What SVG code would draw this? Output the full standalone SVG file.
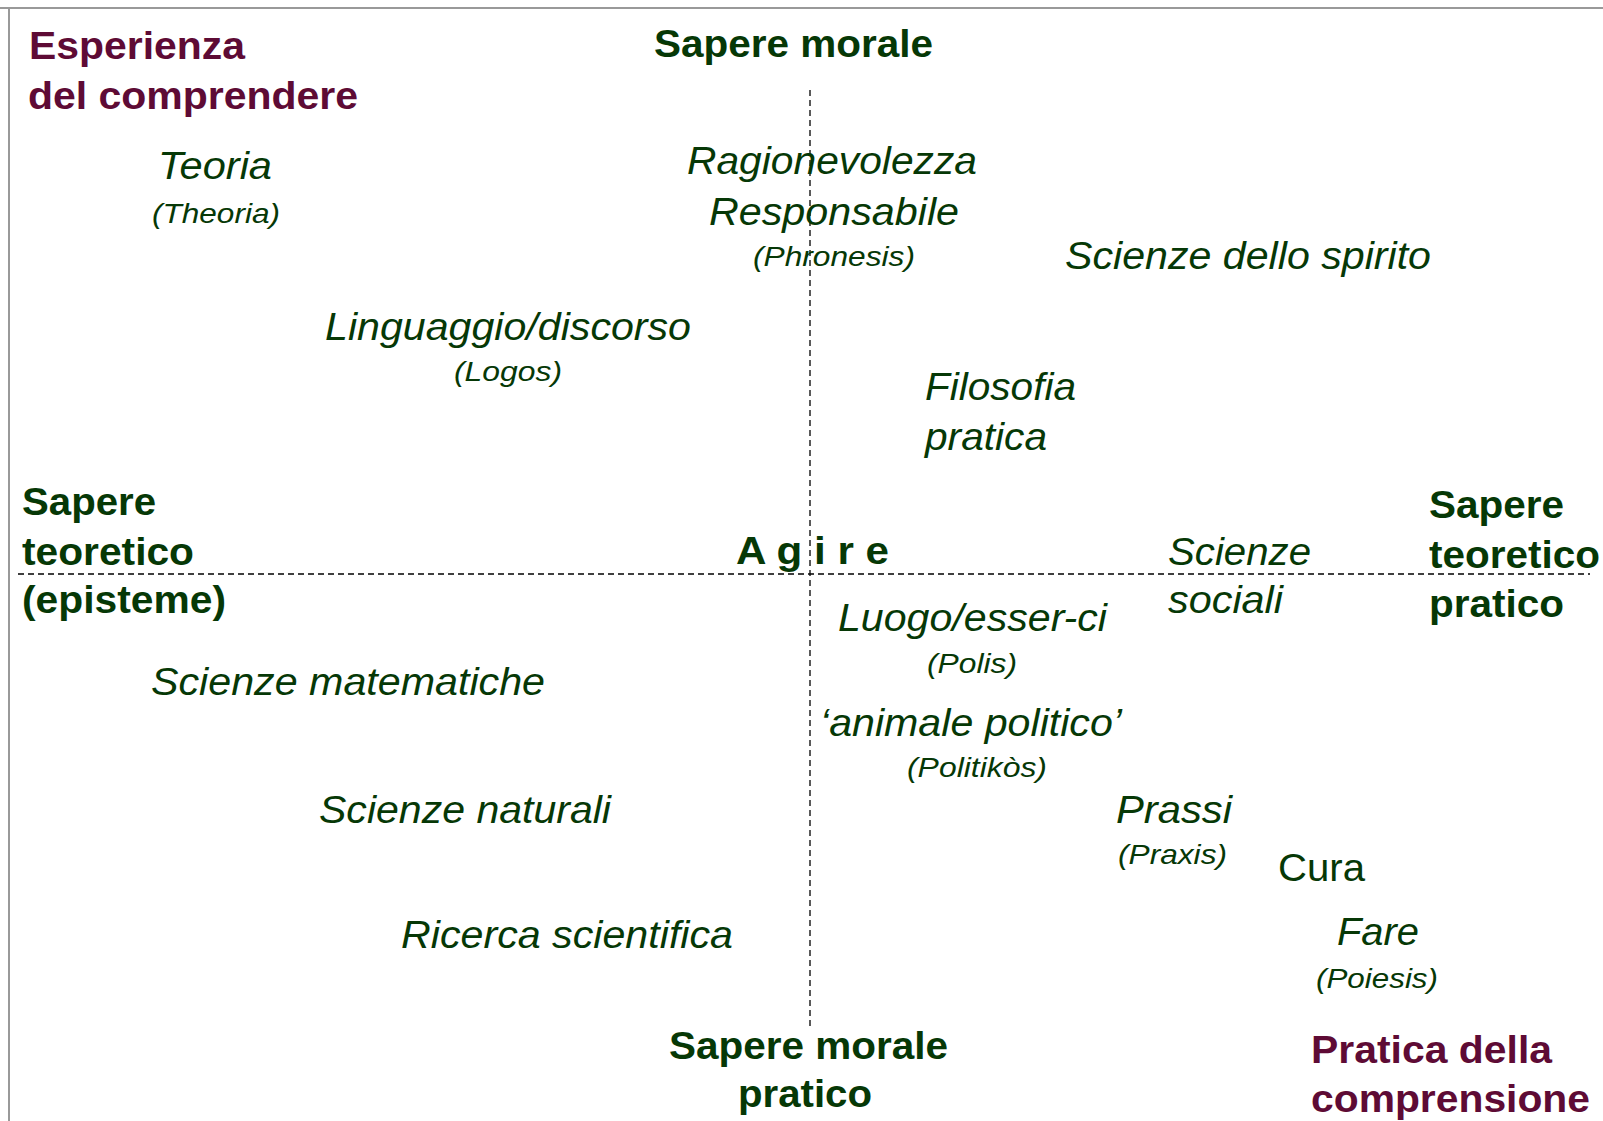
<svg xmlns="http://www.w3.org/2000/svg" width="1603" height="1121" viewBox="0 0 1603 1121">
<style>
text{font-family:"Liberation Sans",Arial,sans-serif;fill:#063806}
.h{font-weight:bold;font-size:38px}
.m{fill:#5e0b35}
.i{font-style:italic;font-size:38px}
.p{font-style:italic;font-size:28px}
.r{font-size:38px}
.ax{stroke:#000;stroke-width:1.3;stroke-dasharray:6 4;fill:none}
.fr{stroke:#999;stroke-width:2;fill:none}
</style>
<rect x="0" y="0" width="1603" height="1121" fill="#fff"/>
<g id="frame">
<line class="fr" x1="0" y1="8" x2="1603" y2="8"/>
<line class="fr" x1="9" y1="8" x2="9" y2="1121"/>
</g>
<g id="connectors">
<line class="ax" x1="18" y1="574" x2="1590" y2="574"/>
<line class="ax" x1="810" y1="90" x2="810" y2="1027"/>
</g>
<g id="esperienza"><text class="h m" x="29" y="59" textLength="216" lengthAdjust="spacingAndGlyphs">Esperienza</text><text class="h m" x="28" y="109" textLength="330" lengthAdjust="spacingAndGlyphs">del comprendere</text></g>
<g id="sapere-morale"><text class="h" x="654" y="57" textLength="279" lengthAdjust="spacingAndGlyphs">Sapere morale</text></g>
<g id="teoria"><text class="i" x="158" y="179" textLength="114" lengthAdjust="spacingAndGlyphs">Teoria</text><text class="p" x="152" y="223" textLength="128" lengthAdjust="spacingAndGlyphs">(Theoria)</text></g>
<g id="ragionevolezza"><text class="i" x="687" y="174" textLength="290" lengthAdjust="spacingAndGlyphs">Ragionevolezza</text><text class="i" x="709" y="225" textLength="250" lengthAdjust="spacingAndGlyphs">Responsabile</text><text class="p" x="753" y="266" textLength="162" lengthAdjust="spacingAndGlyphs">(Phronesis)</text></g>
<g id="scienze-spirito"><text class="i" x="1065" y="269" textLength="366" lengthAdjust="spacingAndGlyphs">Scienze dello spirito</text></g>
<g id="linguaggio"><text class="i" x="325" y="340" textLength="366" lengthAdjust="spacingAndGlyphs">Linguaggio/discorso</text><text class="p" x="454" y="381" textLength="108" lengthAdjust="spacingAndGlyphs">(Logos)</text></g>
<g id="filosofia"><text class="i" x="925" y="400" textLength="151" lengthAdjust="spacingAndGlyphs">Filosofia</text><text class="i" x="925" y="450" textLength="122" lengthAdjust="spacingAndGlyphs">pratica</text></g>
<g id="sapere-teoretico"><text class="h" x="22" y="515" textLength="134" lengthAdjust="spacingAndGlyphs">Sapere</text><text class="h" x="22" y="565" textLength="172" lengthAdjust="spacingAndGlyphs">teoretico</text><text class="h" x="22" y="613" textLength="204" lengthAdjust="spacingAndGlyphs">(episteme)</text></g>
<g id="agire"><text class="h" x="736" y="564" textLength="153" lengthAdjust="spacingAndGlyphs">A g i r e</text></g>
<g id="scienze-sociali"><text class="i" x="1168" y="565" textLength="143" lengthAdjust="spacingAndGlyphs">Scienze</text><text class="i" x="1168" y="613" textLength="115" lengthAdjust="spacingAndGlyphs">sociali</text></g>
<g id="sapere-teoretico-pratico"><text class="h" x="1429" y="518" textLength="135" lengthAdjust="spacingAndGlyphs">Sapere</text><text class="h" x="1429" y="568" textLength="171" lengthAdjust="spacingAndGlyphs">teoretico</text><text class="h" x="1429" y="617" textLength="135" lengthAdjust="spacingAndGlyphs">pratico</text></g>
<g id="luogo"><text class="i" x="838" y="631" textLength="269" lengthAdjust="spacingAndGlyphs">Luogo/esser-ci</text><text class="p" x="927" y="673" textLength="90" lengthAdjust="spacingAndGlyphs">(Polis)</text></g>
<g id="scienze-matematiche"><text class="i" x="151" y="695" textLength="394" lengthAdjust="spacingAndGlyphs">Scienze matematiche</text></g>
<g id="animale-politico"><text class="i" x="820" y="736" textLength="302" lengthAdjust="spacingAndGlyphs">‘animale politico’</text><text class="p" x="907" y="777" textLength="140" lengthAdjust="spacingAndGlyphs">(Politikòs)</text></g>
<g id="scienze-naturali"><text class="i" x="319" y="823" textLength="292" lengthAdjust="spacingAndGlyphs">Scienze naturali</text></g>
<g id="prassi"><text class="i" x="1116" y="823" textLength="116" lengthAdjust="spacingAndGlyphs">Prassi</text><text class="p" x="1118" y="864" textLength="109" lengthAdjust="spacingAndGlyphs">(Praxis)</text></g>
<g id="cura"><text class="r" x="1278" y="881" textLength="87" lengthAdjust="spacingAndGlyphs">Cura</text></g>
<g id="ricerca"><text class="i" x="401" y="948" textLength="332" lengthAdjust="spacingAndGlyphs">Ricerca scientifica</text></g>
<g id="fare"><text class="i" x="1337" y="945" textLength="82" lengthAdjust="spacingAndGlyphs">Fare</text><text class="p" x="1316" y="988" textLength="122" lengthAdjust="spacingAndGlyphs">(Poiesis)</text></g>
<g id="sapere-morale-pratico"><text class="h" x="669" y="1059" textLength="279" lengthAdjust="spacingAndGlyphs">Sapere morale</text><text class="h" x="738" y="1107" textLength="134" lengthAdjust="spacingAndGlyphs">pratico</text></g>
<g id="pratica-comprensione"><text class="h m" x="1311" y="1063" textLength="241" lengthAdjust="spacingAndGlyphs">Pratica della</text><text class="h m" x="1311" y="1112" textLength="279" lengthAdjust="spacingAndGlyphs">comprensione</text></g>
</svg>
